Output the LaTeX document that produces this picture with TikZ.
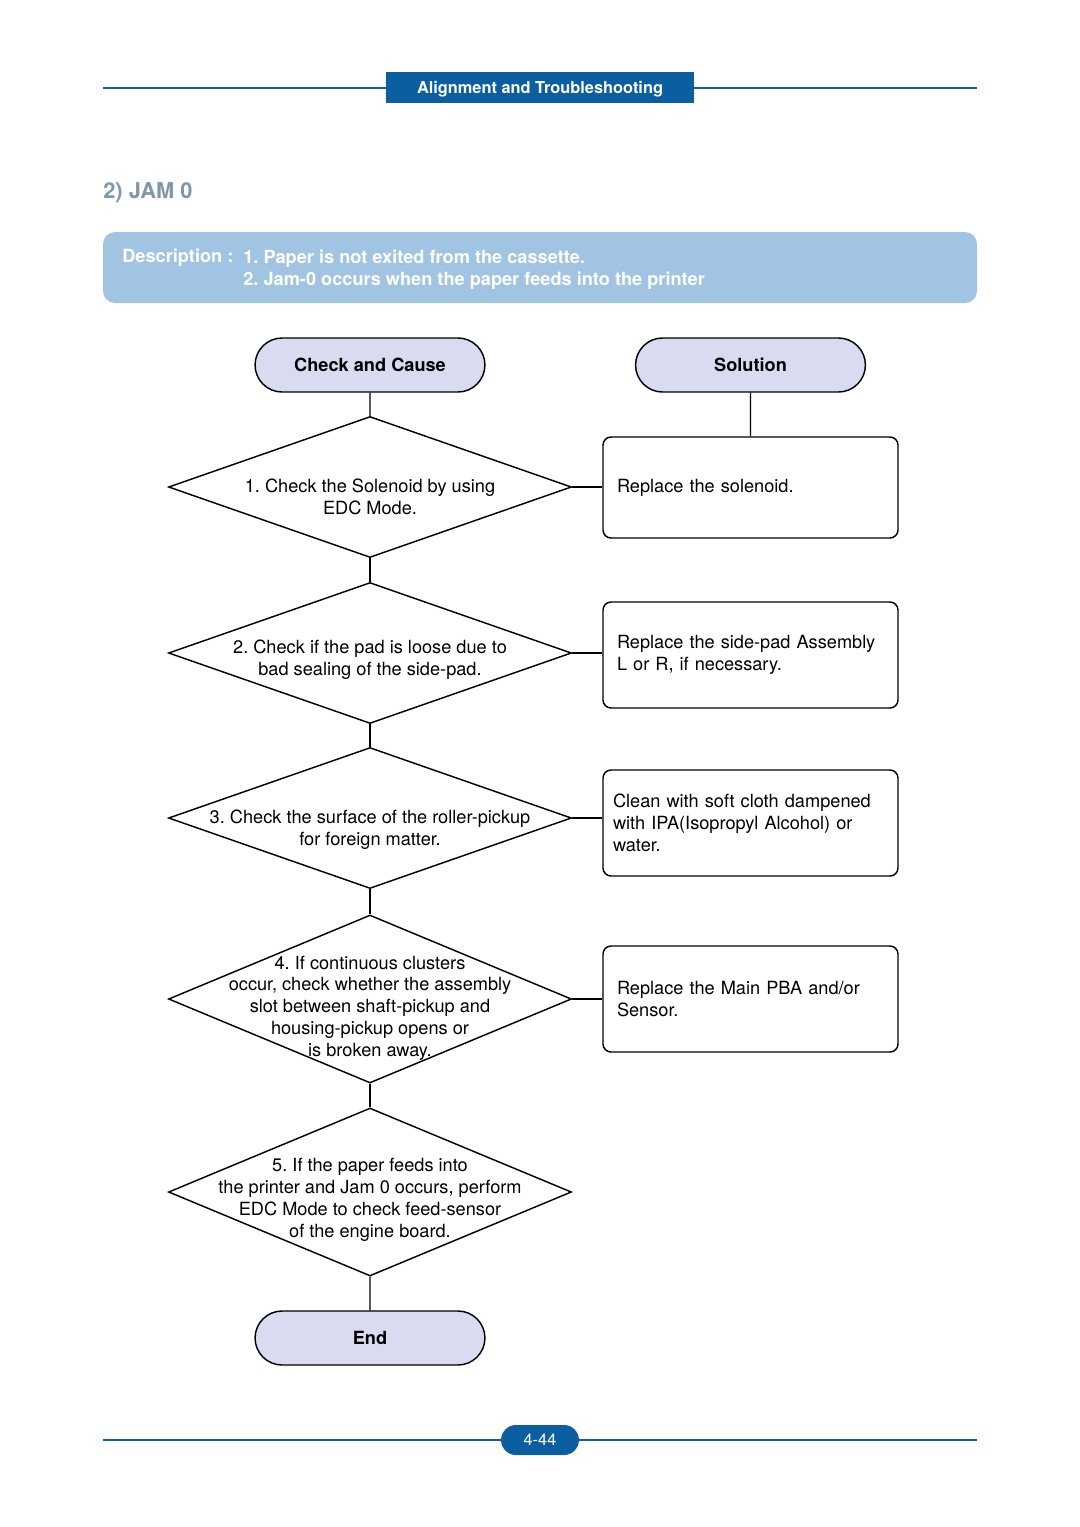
\documentclass[tikz,border=0pt]{standalone}
\usepackage{fontspec}
\setmainfont{TeX Gyre Heros}
\usetikzlibrary{shapes.geometric, shapes.misc}
\definecolor{headblue}{HTML}{0B5E9F}
\definecolor{descblue}{HTML}{A2C4E3}
\definecolor{lavender}{HTML}{D9DBF0}
\definecolor{titlegray}{HTML}{8096AA}
\tikzstyle{terminal} = [rounded rectangle, draw=black, thick, fill=lavender, minimum width=133.1pt, minimum height=29.7pt, font=\bfseries]
\tikzstyle{decision} = [diamond, draw=black, thick, minimum width=221.65pt, minimum height=77.55pt, inner sep=0pt]
\tikzstyle{tall} = [minimum height=92.4pt]
\tikzstyle{steptext} = [align=center, inner sep=0pt]
\tikzstyle{remedy} = [rectangle, rounded corners=4.4pt, draw=black, thick, minimum height=58.3pt, text width=146.85pt, inner xsep=7.7pt, align=left]
\tikzstyle{connector} = [thick]
\tikzstyle{rule} = [headblue, line width=1.1pt]

\begin{document}
\frenchspacing
\begin{tikzpicture}[x=0.55pt, y=-0.55pt]
\useasboundingbox (0,0) rectangle (1080,1527);

% page header
\draw [rule] (103,88) -- (977,88);
\node (header) [fill=headblue, text=white, font=\bfseries\fontsize{9}{11}\selectfont, minimum width=169.4pt, minimum height=17pt, text depth=0.6pt] at (540,87.5) {Alignment and Troubleshooting};
\node (title) [anchor=west, inner sep=0pt, text=titlegray, font=\bfseries\fontsize{12}{14}\selectfont] at (103,193) {2) JAM 0};

% description
\node (desc) [fill=descblue, rounded corners=6.6pt, minimum width=480.7pt, minimum height=39.05pt] at (540,267.5) {};
\node (desclabel) [anchor=west, inner sep=0pt, text=white, font=\bfseries] at (122,258) {Description :};
\node (desctext) [anchor=west, inner sep=0pt, text=white, font=\bfseries, align=left] at (243,270) {1. Paper is not exited from the cassette.\\2. Jam-0 occurs when the paper feeds into the printer};

% flow chart
\node (cause) [terminal] at (370,365) {Check and Cause};
\node (solution) [terminal] at (750.5,365) {Solution};

\node (d1) [decision] at (370,487) {};
\node (t1) [steptext] at (370,497) {1. Check the Solenoid by using\\EDC Mode.};
\node (d2) [decision] at (370,653) {};
\node (t2) [steptext] at (370,660) {2. Check if the pad is loose due to\\bad sealing of the side-pad.};
\node (d3) [decision] at (370,818) {};
\node (t3) [steptext] at (370,830) {3. Check the surface of the roller-pickup\\for foreign matter.};
\node (d4) [decision, tall] at (370,999) {};
\node (t4) [steptext] at (370,1008) {4. If continuous clusters\\occur, check whether the assembly\\slot between shaft-pickup and\\housing-pickup opens or\\is broken away.};
\node (d5) [decision, tall] at (370,1192) {};
\node (t5) [steptext] at (370,1200) {5. If the paper feeds into\\the printer and Jam 0 occurs, perform\\EDC Mode to check feed-sensor\\of the engine board.};
\node (stop) [terminal] at (370,1338) {End};

\node (r1) [remedy, minimum height=55.55pt] at (750.5,487.5) {Replace the solenoid.};
\node (r2) [remedy] at (750.5,655) {Replace the side-pad Assembly\\L or R, if necessary.};
\node (r3) [remedy, inner xsep=5.5pt, text width=151.25pt] at (750.5,823) {Clean with soft cloth dampened\\with IPA(Isopropyl Alcohol) or\\water.};
\node (r4) [remedy] at (750.5,999) {Replace the Main PBA and/or\\Sensor.};

\draw [connector] (cause) -- (d1);
\draw [connector] (solution) -- (r1);
\draw [connector] (d1) -- (d2);
\draw [connector] (d2) -- (d3);
\draw [connector] (d3) -- (d4);
\draw [connector] (d4) -- (d5);
\draw [connector] (d5) -- (stop);
\draw [connector] (d1.east) -- (d1.east -| r1.west);
\draw [connector] (d2.east) -- (d2.east -| r2.west);
\draw [connector] (d3.east) -- (d3.east -| r3.west);
\draw [connector] (d4.east) -- (d4.east -| r4.west);

% page footer
\draw [rule] (103,1440) -- (977,1440);
\node (page) [rounded rectangle, fill=headblue, text=white, minimum width=49.5pt, minimum height=16.5pt, font=\fontsize{9}{11}\selectfont] at (540,1440) {4-44};
\end{tikzpicture}
\end{document}
